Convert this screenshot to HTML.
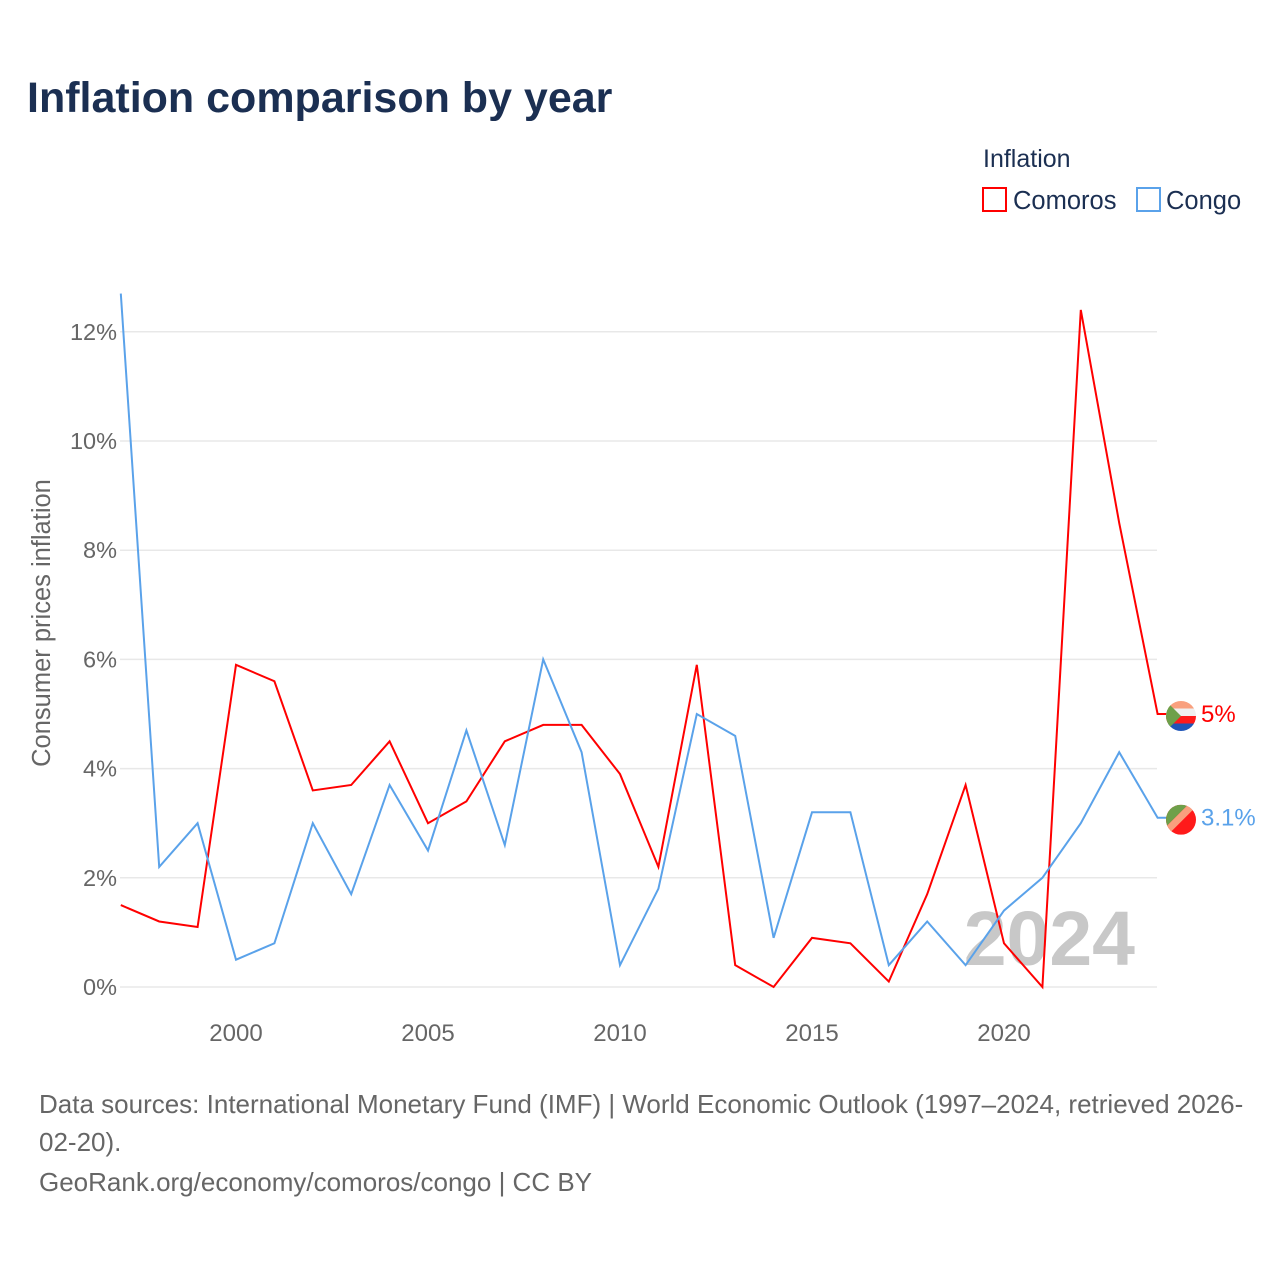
<!DOCTYPE html>
<html><head><meta charset="utf-8"><style>
body{margin:0;background:#fff;font-family:"Liberation Sans",sans-serif;}
</style></head><body>
<svg id="chart" width="1280" height="1280" xmlns="http://www.w3.org/2000/svg">
<text x="27" y="112" font-size="43" font-weight="bold" fill="#1b2f52">Inflation comparison by year</text>
<text x="983" y="167" font-size="25" fill="#1b2f52">Inflation</text>
<g><rect x="983" y="188" width="23" height="23" fill="none" stroke="#ff0000" stroke-width="2"/><text x="1013" y="209" font-size="25.5" fill="#1b2f52">Comoros</text></g>
<g><rect x="1137" y="188" width="23" height="23" fill="none" stroke="#5aa2ea" stroke-width="2"/><text x="1166" y="209" font-size="25.5" fill="#1b2f52">Congo</text></g>
<text transform="translate(50,623) rotate(-90)" text-anchor="middle" font-size="25.5" fill="#666">Consumer prices inflation</text>
<text x="1135" y="965" text-anchor="end" font-size="77" font-weight="bold" fill="#c8c8c8">2024</text>
<g id="grid"></g><g id="series"></g>
<g font-size="26" fill="#666">
<text x="39" y="1113">Data sources: International Monetary Fund (IMF) | World Economic Outlook (1997–2024, retrieved 2026-</text>
<text x="39" y="1151">02-20).</text>
<text x="39" y="1191">GeoRank.org/economy/comoros/congo | CC BY</text>
</g>
</svg>
<script>
const years=[1997,1998,1999,2000,2001,2002,2003,2004,2005,2006,2007,2008,2009,2010,2011,2012,2013,2014,2015,2016,2017,2018,2019,2020,2021,2022,2023,2024];
const comoros=[1.5,1.2,1.1,5.9,5.6,3.6,3.7,4.5,3.0,3.4,4.5,4.8,4.8,3.9,2.2,5.9,0.4,0.0,0.9,0.8,0.1,1.7,3.7,0.8,0.0,12.4,8.5,5.0];
const congo=[12.7,2.2,3.0,0.5,0.8,3.0,1.7,3.7,2.5,4.7,2.6,6.0,4.3,0.4,1.8,5.0,4.6,0.9,3.2,3.2,0.4,1.2,0.4,1.4,2.0,3.0,4.3,3.1];
const yTicks=[0,2,4,6,8,10,12];
const xTicks=[2000,2005,2010,2015,2020];
const NS="http://www.w3.org/2000/svg";
const X=y=>120.8+(y-1997)*38.4;
const Y=v=>987-v*54.6;
function mk(tag,attrs,parent){const e=document.createElementNS(NS,tag);for(const k in attrs)e.setAttribute(k,attrs[k]);parent.appendChild(e);return e;}
const grid=document.getElementById('grid'),ser=document.getElementById('series');
yTicks.forEach(t=>{
 const l=mk('line',{x1:120,x2:1157,y1:Y(t),y2:Y(t),stroke:'#e8e8e8','stroke-width':1.5},grid);
 
 
 const tx=mk('text',{x:117,y:Y(t)+8,'text-anchor':'end','font-size':23.5,fill:'#666'},grid);tx.textContent=t+'%';
 
 
});
xTicks.forEach(t=>{
 const tx=mk('text',{x:X(t),y:1041,'text-anchor':'middle','font-size':24,fill:'#666'},grid);tx.textContent=t;
 
 
});
function series(vals,color,name,label){
 let d=vals.map((v,i)=>(i?'L':'M')+X(years[i])+','+Y(v)).join(' ');
 const last=vals[vals.length-1];
 d+=' L'+(X(2024)+10)+','+Y(last);
 const p=mk('path',{d:d,fill:'none',stroke:color,'stroke-width':2},ser);
 
 
 const t=mk('text',{x:1201,y:Y(last)+8,'font-size':24,fill:color},ser);t.textContent=label;
 
 
}
series(comoros,'#ff0000','comoros','5%');
series(congo,'#5aa2ea','congo','3.1%');
function flagC(cy){
 const g=mk('g',{},ser);
 
 
 mk('clipPath',{id:'cf'},g).appendChild(document.createElementNS(NS,'circle'));
 const cx=1181,r=15;
 const c=g.querySelector('circle');c.setAttribute('cx',cx);c.setAttribute('cy',cy);c.setAttribute('r',r);
 const h=mk('g',{'clip-path':'url(#cf)'},g);
 const cols=['#f9a07e','#f0f0f0','#ff1a1a','#1f56b8'];
 cols.forEach((col,i)=>mk('rect',{x:cx-r,y:cy-r+i*7.5,width:30,height:7.5,fill:col},h));
 mk('polygon',{points:`${cx-r},${cy-r} ${cx},${cy} ${cx-r},${cy+r}`,fill:'#6ea04a'},h);
}
function flagG(cy){
 const g=mk('g',{},ser);
 
 
 mk('clipPath',{id:'gf'},g).appendChild(document.createElementNS(NS,'circle'));
 const cx=1181,r=15;
 const c=g.querySelector('circle');c.setAttribute('cx',cx);c.setAttribute('cy',cy);c.setAttribute('r',r);
 const h=mk('g',{'clip-path':'url(#gf)'},g);
 mk('rect',{x:cx-r,y:cy-r,width:30,height:30,fill:'#ff1a1a'},h);
 mk('polygon',{points:`${cx-r},${cy-r} ${cx+r-8},${cy-r} ${cx-r},${cy+r-8}`,fill:'#6ea04a'},h);
 mk('polygon',{points:`${cx+r-8},${cy-r} ${cx+r+2},${cy-r} ${cx-r},${cy+r+2} ${cx-r},${cy+r-8}`,fill:'#f9a07e'},h);
}
flagC(Y(comoros[comoros.length-1])+2);
flagG(Y(congo[congo.length-1])+2);
</script>
</body></html>
